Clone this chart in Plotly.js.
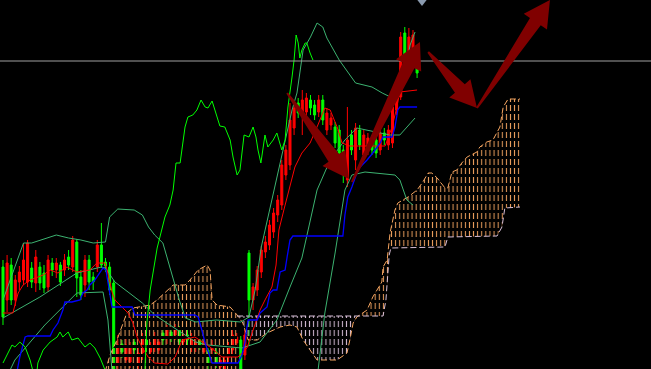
<!DOCTYPE html>
<html><head><meta charset="utf-8">
<script src="https://cdn.plot.ly/plotly-3.0.1.min.js"></script>
<style>html,body{margin:0;padding:0;background:#000;overflow:hidden}#chart{width:651px;height:369px}</style>
</head><body><div id="chart"></div>
<script>
// ---- candles (bar index 0..101) ----
const openP = [733,700,735,700,718,720,718,732,717,733, 727,713,737,730,735,730,743,733,758,723,
  715,740,723,733,755,738,733,717,635,656, 640,638,658,637,647,660,648,653,650,667,
  662,668,665,670,658,665,653,653,660,648, 650,650,648,633,631,643,650,657,660,645,
  747,700,710,728,748,755,768,785,795,825, 835,872,897,885,888,900,895,888,900,870,
  875,873,870,850,820,865,840,870,845,850, 860,860,850,867,855,857,890,903,967,943, 950,943];
const closeP = [683,737,700,720,728,740,757,718,743,717, 712,740,730,737,718,740,735,760,722,705,
  740,718,718,755,735,734,710,628,655,648, 655,652,650,647,662,653,653,663,658,660,
  670,663,670,658,663,660,663,658,655,658, 635,655,637,640,640,653,665,663,631,665,
  700,713,730,750,758,775,787,800,835,850, 880,892,887,900,902,892,885,900,880,887,
  882,857,847,843,860,850,872,855,865,862, 850,847,867,860,870,893,905,963,940,963, 965,927];
const highP = [740,745,742,725,734,757,760,738,750,738, 735,745,742,742,738,746,750,764,761,730,
  745,745,728,760,777,742,738,720,665,660, 662,658,664,652,667,665,658,668,662,672,
  675,673,676,674,667,670,667,662,664,662, 654,660,652,645,646,658,670,667,664,670,
  750,717,734,754,764,780,792,805,840,855, 897,897,902,910,907,905,900,905,905,892,
  887,878,875,855,893,870,877,875,870,867, 865,865,872,872,875,898,910,968,973,972, 970,948];
const lowP = [675,688,695,694,710,715,713,712,708,710, 707,708,724,722,714,724,730,728,703,700,
  703,710,710,728,732,728,705,625,628,642, 634,632,644,631,640,648,642,648,644,654,
  656,658,660,653,653,655,648,648,650,643, 631,645,632,628,628,638,644,652,628,640,
  655,690,704,722,742,750,762,778,790,820, 830,865,882,865,882,885,880,883,875,865,
  870,852,842,817,813,845,830,850,840,845, 845,842,845,855,850,852,885,900,935,938, 945,922];
const barIndex = openP.map((_, i) => i);

// ---- indicator lines: [bar, price] ----
const bbUpper = [[0,700],[5,757],[7,757],[13,765],[16,762],[19,760],[22,757],[25,758],[26,783],[28,791],[32,790],[34,785],[35.5,773],[37,765],[39,757],[40,743],[41.5,723],[43,700],[44.5,682],[47,678],[52,680],[56.5,678],[58,678],[60,683],[61.5,710],[63,753],[65,790],[67,825],[68.8,860],[70.5,890],[71.7,907],[73.2,950],[75,963],[76.6,977],[78,973],[79,962],[82,940],[84.5,925],[86,917],[90,913],[92.5,907],[96,900],[98,925],[99.3,955],[100.5,968]];
const bbMiddle = [[0,682],[9,703],[18,727],[24,733],[25,732],[27.3,718],[30.5,708],[34,697],[37,685],[40,677],[43.7,667],[47,658],[50,655],[58.3,652],[62.7,658],[66.8,680],[70,713],[72.9,742],[76.6,810],[79.8,840],[83.4,860],[86.3,872],[94.4,865],[96.8,865],[100.5,882]];
const bbLower = [[1.5,628],[2.9,640],[10.2,675],[18,707],[24.4,708],[25.6,680],[26.6,628],[null,null],[76.8,628],[78.5,687],[81,747],[83.4,810],[85.1,825],[88.3,828],[95.6,825],[96.8,820],[98.5,800],[100,795]];
const tenkan = [[0,687],[2.4,687],[3.7,707],[4.9,715],[6.6,720],[9.8,725],[11.5,730],[13.4,727],[15.6,733],[18,728],[21.2,730],[22.9,737],[24.9,737],[25.4,730],[26.6,708],[27.3,700],[30.5,687],[31.7,677],[32.7,663],[33.9,653],[35.4,643],[37,637],[40.2,636],[42,643],[43.7,660],[46.8,663],[50.5,653],[53.4,643],[57.3,643],[59.5,652],[61,670],[62.7,690],[63.9,700],[65.6,713],[66.6,735],[67.3,770],[68.5,790],[70,815],[71.2,833],[72.9,847],[74.9,857],[76.8,875],[78.5,892],[79.8,890],[81.5,873],[82.7,857],[84.6,854],[93.2,854],[94.9,873],[95.9,890],[96.8,908],[101,910]];
const kijun = [[3.4,628],[4.1,643],[5.4,663],[6.1,664],[11.5,664],[12.2,670],[13.4,677],[14.6,690],[15.1,698],[16.8,698],[18.8,700],[19.5,707],[20.5,710],[21.2,715],[22.4,720],[23.7,727],[24.4,732],[25.1,730],[26.1,708],[26.6,693],[31.5,693],[32.2,685],[46.8,685],[47.6,683],[48.5,670],[49.3,657],[51,637],[57.3,637],[58.3,645],[59,657],[59.5,673],[59.8,680],[62,680],[62.7,687],[64.4,693],[65.1,707],[65.9,710],[66.8,710],[67.6,728],[68.8,730],[69.3,743],[70,760],[70.7,764],[82.9,764],[83.4,785],[84.1,803],[85.1,813],[86.3,827],[87.1,833],[88.8,840],[90.2,847],[92,857],[92.7,863],[94.9,863],[95.6,873],[96.3,890],[96.8,893],[101,893]];
const chikou = [[0,637],[2.2,655],[2.9,653],[4.1,658],[5.4,653],[6.6,640],[7.3,629],[8.3,629],[8.5,637],[9.8,650],[11.5,658],[13.2,663],[13.9,668],[14.6,663],[15.9,668],[16.8,660],[18.3,662],[20,653],[21.2,657],[22.4,652],[23.7,642],[24.9,631],[25.4,625],[null,null],[34.6,628],[35.1,677],[35.9,710],[37.6,752],[39.5,783],[40.7,795],[41.5,810],[42.2,837],[43.2,837],[44.4,873],[45.1,883],[46.3,885],[47.3,890],[48.3,900],[49.3,893],[50,892],[51,899],[52.2,883],[52.9,874],[54.1,873],[55.4,860],[56.1,843],[57.1,825],[57.8,830],[58.5,855],[58.8,865],[60,863],[61,873],[61.7,863],[62.2,850],[62.9,837],[63.9,865],[64.6,853],[65.9,860],[66.8,867],[68,850],[68.8,860],[69.5,893],[70.5,923],[71,940],[71.5,965],[72,957],[72.4,942],[72.9,950],[73.7,957],[74.1,957],[74.9,947],[75.6,940]];
const senkouA = [[24.9,628],[26.1,645],[27.8,660],[30.2,687],[31.7,692],[35.9,695],[37.6,700],[40.7,712],[41.5,715],[44.4,715],[45.6,720],[47.6,730],[49.8,735],[50.5,730],[51,700],[52.2,695],[55.4,693],[57.1,685],[58.5,677],[59.8,660],[62,660],[64.4,667],[67.6,673],[70,675],[71.7,673],[73.2,660],[74.9,650],[76.6,640],[81.5,640],[83.9,647],[84.6,660],[85.4,677],[86.3,683],[87.8,687],[88.8,690],[90.2,703],[91.2,710],[92.4,718],[92.7,733],[93.7,740],[94.4,767],[95.6,790],[96.3,797],[98.8,803],[101,810],[102.4,818],[103.7,827],[104.6,827],[105.9,822],[107.8,812],[108.5,812],[109.5,828],[110.7,830],[111.9,837],[113.2,843],[115.6,848],[116.3,853],[118,858],[119.5,860],[120.5,867],[121.2,873],[122,893],[123.2,901],[126.1,901]];
const senkouB = [[24.9,600],[57.1,600],[57.1,684],[86.3,684],[92.7,684],[93.4,700],[94.2,745],[94.6,752],[107.8,753],[108.5,763],[120.5,764],[121.7,773],[122.4,792],[126.1,793]];
const cloudSections = [[24.9,57.1,'#F4A460'],[57.1,86.3,'#D8BFD8'],[86.3,126.1,'#F4A460']];
const priceLevel = 939;
const marker = [[102.2,1000]];
const arrowStarts = [[69.3,907],[85.1,818],[103.7,948],[115.6,892]];
const arrowTips   = [[84.4,821],[101.7,958],[115.6,892],[133.4,1000]];

// ---- axes ----
const X0 = -0.73, X1 = 158.05, Y0 = 631, Y1 = 1000, W = 651, H = 369;
const xs = a => a.map(d => d[0]), ys = a => a.map(d => d[1]);
const traces = [];
const seg = (a, lo, hi) => a.filter(d => d[0] >= lo && d[0] <= hi);

cloudSections.forEach(([lo, hi, col]) => {
  const b = seg(senkouB, lo, hi), a = seg(senkouA, lo, hi);
  traces.push({x: xs(b), y: ys(b), mode:'lines', line:{width:0}, hoverinfo:'skip'});
  traces.push({x: xs(a), y: ys(a), mode:'lines', line:{width:0}, fill:'tonexty', fillcolor:'rgba(0,0,0,0)',
    fillpattern:{shape:'|', fgcolor:col, bgcolor:'rgba(0,0,0,0)', size:4.1, solidity:0.24}, hoverinfo:'skip'});
  traces.push({x: xs(b), y: ys(b), mode:'lines', line:{width:0}, hoverinfo:'skip'});
  traces.push({x: xs(a), y: ys(a), mode:'lines', line:{width:0}, fill:'tonexty', fillcolor:'rgba(0,0,0,0)',
    fillpattern:{shape:'-', fgcolor:'#000000', bgcolor:'rgba(0,0,0,0)', size:9, solidity:0.34}, hoverinfo:'skip'});
});
const line = (a, color, w, dash) => ({x: xs(a), y: ys(a), mode:'lines', connectgaps:false,
  line:{color, width:w, dash: dash || 'solid'}, hoverinfo:'skip'});
const visibleB = senkouB.filter(d => d[1] > Y0);
traces.push(line(senkouA, '#F4A460', 1, '6px,3px'));
traces.push(line(visibleB, '#D8BFD8', 1, '6px,3px'));
traces.push(line(bbUpper, '#3CB371', 1));
traces.push(line(bbMiddle, '#3CB371', 1));
traces.push(line(bbLower, '#3CB371', 1));
traces.push({type:'candlestick', x: barIndex, open: openP, high: highP, low: lowP, close: closeP,
  increasing:{line:{color:'#FF0000', width:1}, fillcolor:'#FF0000'},
  decreasing:{line:{color:'#00FF00', width:1}, fillcolor:'#00FF00'},
  whiskerwidth:0, hoverinfo:'skip'});
traces.push(line(tenkan, '#FF0000', 1));
traces.push(line(kijun, '#0000FF', 1.3));
traces.push(line(chikou, '#00FF00', 1));
traces.push({x:[X0, X1], y:[priceLevel, priceLevel], mode:'lines', line:{color:'#A0A0A0', width:1}, hoverinfo:'skip'});

// arrows: tapered shaft + triangular head
const toPx = (i, p) => [(i - X0) / (X1 - X0) * W, (Y1 - p) / (Y1 - Y0) * H];
const toData = (x, y) => [X0 + x / W * (X1 - X0), Y1 - y / H * (Y1 - Y0)];
function arrow(s, t, w0, w1, hw, hl) {
  const [sx, sy] = toPx(s[0], s[1]), [tx, ty] = toPx(t[0], t[1]);
  const dx = tx - sx, dy = ty - sy, L = Math.hypot(dx, dy), ux = dx / L, uy = dy / L, nx = -uy, ny = ux;
  const bx = tx - ux * hl, by = ty - uy * hl;
  const pts = [[sx + nx*w0/2, sy + ny*w0/2],[bx + nx*w1/2, by + ny*w1/2],[bx + nx*hw/2, by + ny*hw/2],[tx, ty],
    [bx - nx*hw/2, by - ny*hw/2],[bx - nx*w1/2, by - ny*w1/2],[sx - nx*w0/2, sy - ny*w0/2]].map(q => toData(q[0], q[1]));
  pts.push(pts[0]);
  return {x: xs(pts), y: ys(pts), mode:'lines', fill:'toself', fillcolor:'#800000', line:{width:0}, hoverinfo:'skip'};
}
arrowStarts.forEach((s, k) => traces.push(arrow(s, arrowTips[k], 2, 13, 28, 26)));
traces.push({x: xs(marker), y: ys(marker), mode:'markers', marker:{symbol:'triangle-down', size:12, color:'#8A9AAE'}, hoverinfo:'skip'});

const layout = {width:W, height:H, margin:{l:0, r:0, t:0, b:0, pad:0}, paper_bgcolor:'#000', plot_bgcolor:'#000',
  showlegend:false, boxgap:0.3,
  xaxis:{range:[X0, X1], visible:false, showgrid:false, zeroline:false, rangeslider:{visible:false}, fixedrange:true},
  yaxis:{range:[Y0, Y1], visible:false, showgrid:false, zeroline:false, fixedrange:true}};
Plotly.newPlot('chart', traces, layout, {staticPlot:true, displayModeBar:false});
</script></body></html>
